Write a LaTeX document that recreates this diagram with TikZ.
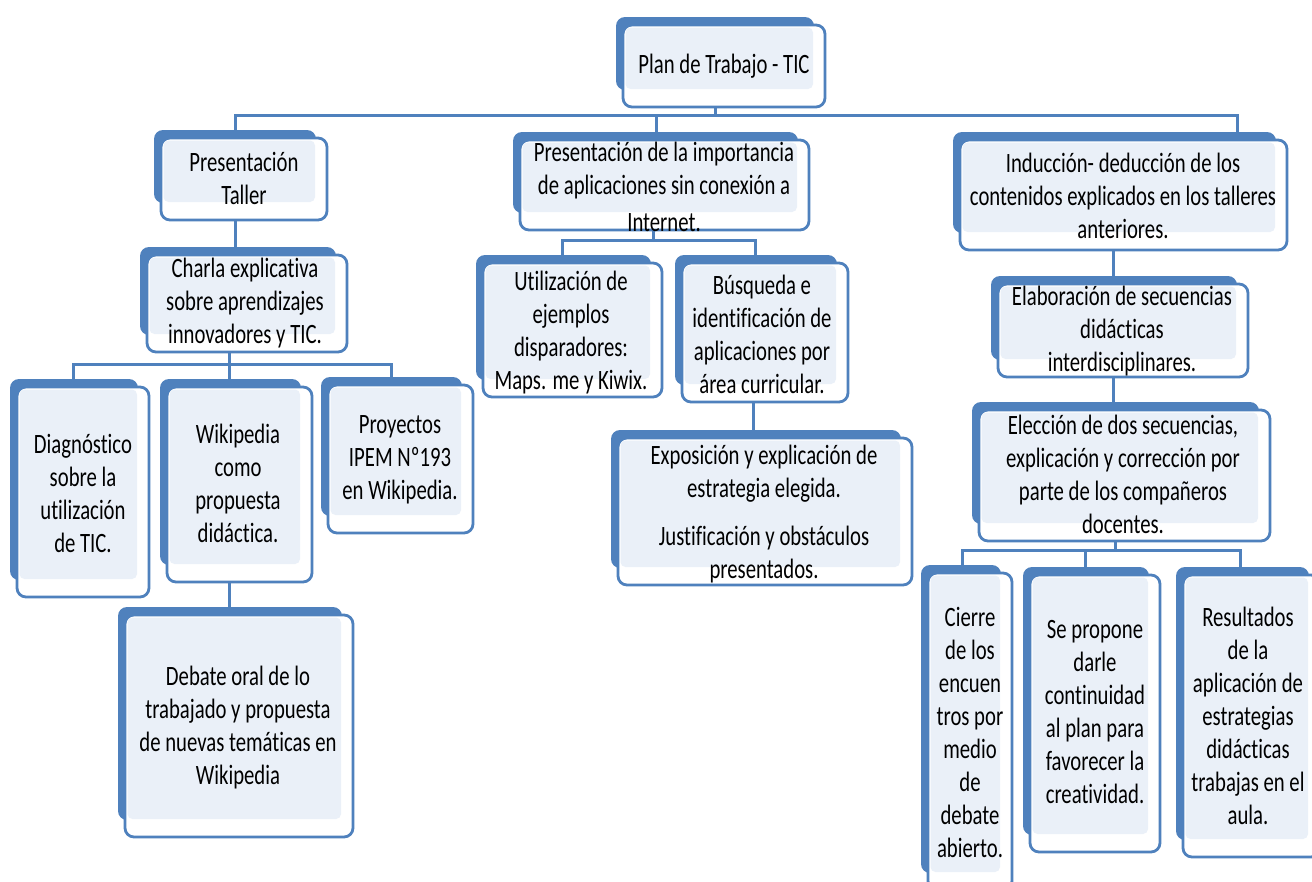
\documentclass[tikz,border=0pt]{standalone}
\usepackage{fontspec}
\setmainfont{Carlito}[FakeStretch=0.74, Ligatures=NoCommon]
\usetikzlibrary{calc}
\pgfdeclarelayer{background}
\pgfsetlayers{background,main}
\definecolor{bblue}{RGB}{79,129,189}
\definecolor{lfill}{RGB}{234,240,248}
\tikzset{
  frontbox/.style={draw=bblue, line width=2.8pt, fill=white, rounded corners=9pt, inner sep=0pt, outer sep=0pt},
  txt/.style={align=center, inner sep=0pt, font=\fontsize{28}{33}\selectfont, text=black},
  conn/.style={draw=bblue, line width=3pt},
}
% #1 name, #2 x0, #3 y0, #4 x1, #5 y1 (front rectangle, pixel units)
\newcommand\tbox[5]{%
  \fill[bblue, rounded corners=9pt] ({#2-7},{#3-8}) rectangle ({#4-11},{#5-17});
  \node[frontbox, minimum width={#4-#2}, minimum height={#5-#3}, anchor=north west] (#1) at (#2,#3) {};
  \fill[lfill, rounded corners=5pt] ({#2+2.5},{#3+2.5}) rectangle ({#4-12},{#5-18});
}
\begin{document}
\begin{tikzpicture}[x=1pt,y=-1pt]
\useasboundingbox (0,0) rectangle (1312,881);
\begin{pgfonlayer}{background}
\fill[white] (0,0) rectangle (1312,881);
\end{pgfonlayer}

% boxes
\tbox{plan}{623}{25}{825}{107}
\tbox{taller}{161}{138}{327}{220}
\tbox{charla}{147}{255}{347}{352}
\tbox{diag}{17}{387}{149}{597}
\tbox{wiki}{167}{387}{312}{582}
\tbox{proy}{328}{385}{473}{533}
\tbox{debate}{125}{615}{353}{837}
\tbox{imp}{520}{140}{809}{230}
\tbox{util}{483}{263}{662}{397}
\tbox{busq}{682}{263}{848}{402}
\tbox{expo}{618}{438}{912}{585}
\tbox{induc}{960}{140}{1287}{250}
\tbox{elab}{998}{284}{1248}{377}
\tbox{elec}{979}{410}{1270}{541}
\tbox{cierre}{928}{573}{1012}{890}
\tbox{prop}{1030}{575}{1160}{852}
\tbox{result}{1183}{575}{1320}{857}

% texts
\node[txt] (planT) at (724,66) {Plan de Trabajo - TIC};
\node[txt] (tallerT) at (244,178) {Presentación\\Taller};
\node[txt] (charlaT) at (245,303) {Charla explicativa\\sobre aprendizajes\\innovadores y TIC.};
\node[txt] (diagT) at (83,493) {Diagnóstico\\sobre la\\utilización\\de TIC.};
\node[txt] (wikiT) at (238,483) {Wikipedia\\como\\propuesta\\didáctica.};
\node[txt] (proyT) at (400,460) {Proyectos\\IPEM Nº193\\en Wikipedia.};
\node[txt] (debateT) at (238,728) {Debate oral de lo\\trabajado y propuesta\\de nuevas temáticas en\\Wikipedia};
\node[txt] (impT) at (664,187) {Presentación de la importancia\\de aplicaciones sin conexión a\\[4pt]Internet.};
\node[txt] (utilT) at (571,333) {Utilización de\\ejemplos\\disparadores:\\Maps. me y Kiwix.};
\node[txt] (busqT) at (762,334) {Búsqueda e\\identificación de\\aplicaciones por\\área curricular.};
\node[txt] (expoT) at (764,514) {Exposición y explicación de\\estrategia elegida.\\[15pt]Justificación y obstáculos\\presentados.};
\node[txt] (inducT) at (1123,196) {Inducción- deducción de los\\contenidos explicados en los talleres\\anteriores.};
\node[txt] (elabT) at (1122,331) {Elaboración de secuencias\\didácticas\\interdisciplinares.};
\node[txt] (elecT) at (1123,474) {Elección de dos secuencias,\\explicación y corrección por\\parte de los compañeros\\docentes.};
\node[txt] (cierreT) at (970,732) {Cierre\\de los\\encuen\\tros por\\medio\\de\\debate\\abierto.};
\node[txt] (propT) at (1095,712) {Se propone\\darle\\continuidad\\al plan para\\favorecer la\\creatividad.};
\node[txt] (resultT) at (1248,716) {Resultados\\de la\\aplicación de\\estrategias\\didácticas\\trabajas en el\\aula.};

% connectors
\begin{pgfonlayer}{background}
\coordinate (b1) at (715,115);
\draw[conn] (plan.south -| b1) -- (b1);
\draw[conn] ([xshift=-9pt]taller.north) |- (b1);
\draw[conn] ([xshift=-8pt]imp.north) |- (b1);
\draw[conn] ([xshift=113.5pt]induc.north) |- (b1);

\draw[conn] ([xshift=-9pt]taller.south) -- ([xshift=-9pt]taller.south |- charla.north);

\coordinate (b2) at (229,364);
\draw[conn] (charla.south -| b2) -- (b2);
\draw[conn] ([xshift=-10pt]diag.north) |- (b2);
\draw[conn] ([xshift=-10.5pt]wiki.north) |- (b2);
\draw[conn] ([xshift=-9.5pt]proy.north) |- (b2);
\draw[conn] ([xshift=-10.5pt]wiki.south) -- ([xshift=-10.5pt]wiki.south |- debate.north);

\coordinate (b3) at (653,240);
\draw[conn] (imp.south -| b3) -- (b3);
\draw[conn] ([xshift=-10.5pt]util.north) |- (b3);
\draw[conn] ([xshift=-10pt]busq.north) |- (b3);
\draw[conn] ([xshift=-12pt]busq.south) -- ([xshift=-12pt]busq.south |- expo.north);

\draw[conn] ([xshift=-10.5pt]induc.south) -- ([xshift=-10.5pt]induc.south |- elab.north);
\draw[conn] ([xshift=-10pt]elab.south) -- ([xshift=-10pt]elab.south |- elec.north);

\coordinate (b4) at (1115,550);
\draw[conn] (elec.south -| b4) -- (b4);
\draw[conn] ([xshift=-8pt]cierre.north) |- (b4);
\draw[conn] ([xshift=-10pt]prop.north) |- (b4);
\draw[conn] ([xshift=-11.5pt]result.north) |- (b4);
\end{pgfonlayer}
\end{tikzpicture}
\end{document}
